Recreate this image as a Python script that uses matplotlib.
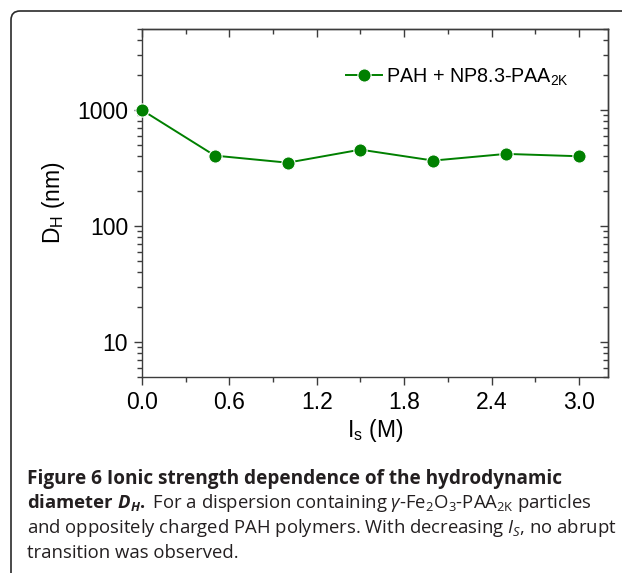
import matplotlib
matplotlib.use('Agg')
import matplotlib.pyplot as plt
import matplotlib.patches as mpatches
from matplotlib.transforms import IdentityTransform
from matplotlib.ticker import MultipleLocator, NullFormatter

# data
ionic_strength = [0.0, 0.5, 1.0, 1.5, 2.0, 2.5, 3.0]   # M
d_h = [1000, 405, 352, 456, 367, 419, 400]              # nm
x_ticks = [0.0, 0.6, 1.2, 1.8, 2.4, 3.0]
x_tick_labels = ['0.0', '0.6', '1.2', '1.8', '2.4', '3.0']
y_ticks = [10, 100, 1000]
y_tick_labels = ['10', '100', '1000']
series_label = 'PAH + NP8.3-PAA$_\\mathsf{2K}$'

caption = [
    'Figure 6 Ionic strength dependence of the hydrodynamic',
    r'$\mathbf{diameter}\ \mathbfit{D_H}\mathbf{.}$ For a dispersion containing '
    r'$\mathit{γ}$-Fe$_2$O$_3$-PAA$_\mathrm{2K}$ particles',
    r'and oppositely charged PAH polymers. With decreasing $\mathit{I_S}$, no abrupt',
    'transition was observed.',
]

plt.rcParams['font.family'] = 'Liberation Sans'
plt.rcParams['mathtext.fontset'] = 'custom'
plt.rcParams['mathtext.rm'] = 'Open Sans'
plt.rcParams['mathtext.it'] = 'Open Sans:italic'
plt.rcParams['mathtext.bf'] = 'Open Sans:bold'
plt.rcParams['mathtext.bfit'] = 'Open Sans:italic:bold'
plt.rcParams['mathtext.sf'] = 'Liberation Sans'

W, H = 622, 573
fig = plt.figure(figsize=(W / 100, H / 100), dpi=100)
ax = fig.add_axes([142 / W, 1 - 377 / H, 466 / W, 348 / H])

green = '#008000'
ax.plot(ionic_strength, d_h, '-o', color=green, lw=1.4, ms=9.5,
        mec='white', mew=0.8, clip_on=False, zorder=5, label=series_label)

ax.set_yscale('log')
ax.set_ylim(5, 5000)
ax.set_xlim(0, 3.2)
ax.set_xticks(x_ticks)
ax.set_xticklabels(x_tick_labels)
ax.xaxis.set_minor_locator(MultipleLocator(0.3))
ax.set_yticks(y_ticks)
ax.set_yticklabels(y_tick_labels)
ax.yaxis.set_minor_formatter(NullFormatter())

spine_col = '#3c3c3c'
for s in ax.spines.values():
    s.set_color(spine_col)
    s.set_linewidth(1.0)
ax.tick_params(which='both', direction='out', color=spine_col, width=1.0,
               labelsize=16.5, pad=4)
ax.tick_params(which='major', length=6)
ax.tick_params(which='minor', length=3.5)

# mirrored ticks pointing inward on top and right
top = ax.secondary_xaxis('top')
top.set_xticks(x_ticks)
top.xaxis.set_minor_locator(MultipleLocator(0.3))
right = ax.secondary_yaxis('right')
right.set_yticks(y_ticks)
for sec in (top, right):
    for s in sec.spines.values():
        s.set_color(spine_col)
        s.set_linewidth(1.0)
    sec.tick_params(which='both', direction='in', color=spine_col, width=1.0,
                    labeltop=False, labelright=False)
    sec.tick_params(which='major', length=6)
    sec.tick_params(which='minor', length=3.5)

ax.set_ylabel(r'$\mathsf{D_H}$ (nm)', fontsize=16.5, labelpad=7)
ax.set_xlabel(r'$\mathsf{I_s}$ (M)', fontsize=16.5, labelpad=2)

ax.legend(loc='center left', bbox_to_anchor=((346 - 142) / 466, 1 - (77 - 29) / 348),
          frameon=False, fontsize=14.2, handlelength=1.85, handletextpad=0.2,
          borderpad=0, borderaxespad=0)

# caption under the chart
baselines = [484, 508.5, 533, 557.5]
for i, (line, yb) in enumerate(zip(caption, baselines)):
    fig.text(27 / W, 1 - yb / H, line, family='Open Sans',
             fontsize=13.7 if i == 0 else 13.3,
             color='#231f20', va='baseline', ha='left',
             fontweight='bold' if i == 0 else 'normal')

# rounded frame around figure + caption
frame = mpatches.FancyBboxPatch((11, -60), 900, H - 11 + 60,
                                boxstyle='round,pad=0,rounding_size=9',
                                transform=IdentityTransform(), fill=False,
                                ec='#2a2a2a', lw=1.2)
fig.add_artist(frame)

fig.savefig('out.png', dpi=100)
